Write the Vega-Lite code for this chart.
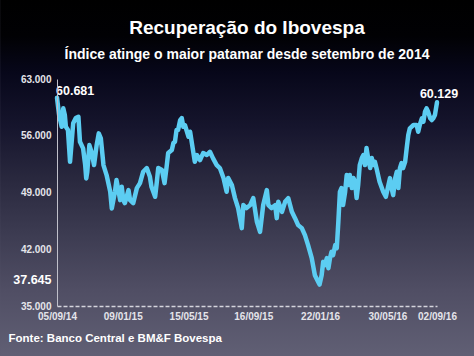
{
  "$schema": "https://vega.github.io/schema/vega-lite/v6.json",
  "width": 380,
  "height": 227,
  "padding": 0,
  "background": "#5a596e",
  "config": {
    "view": {"stroke": null},
    "font": "Liberation Sans",
    "locale": {"number": {"decimal": ",", "thousands": ".", "grouping": [3], "currency": ["R$", ""]}}
  },
  "title": {
    "text": "Recuperação do Ibovespa",
    "subtitle": "Índice atinge o maior patamar desde setembro de 2014",
    "font": "Liberation Sans",
    "subtitleFont": "Liberation Sans",
    "fontSize": 19,
    "subtitleFontSize": 14,
    "fontWeight": "bold",
    "subtitleFontWeight": "bold",
    "color": "#ffffff",
    "subtitleColor": "#ffffff",
    "subtitlePadding": 10,
    "anchor": "middle",
    "offset": -62
  },
  "datasets": {
    "ibov": [
      {"d": "2014-09-05", "v": 60681}, {"d": "2014-09-09", "v": 58556}, {"d": "2014-09-14", "v": 57111},
      {"d": "2014-09-17", "v": 59383}, {"d": "2014-09-20", "v": 58556}, {"d": "2014-09-22", "v": 57111},
      {"d": "2014-09-26", "v": 56704}, {"d": "2014-09-30", "v": 52790}, {"d": "2014-10-06", "v": 57531},
      {"d": "2014-10-11", "v": 58185}, {"d": "2014-10-16", "v": 58346}, {"d": "2014-10-19", "v": 55259},
      {"d": "2014-10-25", "v": 54444}, {"d": "2014-10-29", "v": 52383}, {"d": "2014-10-31", "v": 50740},
      {"d": "2014-11-02", "v": 51555}, {"d": "2014-11-06", "v": 54852}, {"d": "2014-11-10", "v": 54025},
      {"d": "2014-11-15", "v": 52383}, {"d": "2014-11-20", "v": 54852}, {"d": "2014-11-24", "v": 56296},
      {"d": "2014-11-28", "v": 55679}, {"d": "2014-12-03", "v": 52383}, {"d": "2014-12-09", "v": 51148},
      {"d": "2014-12-16", "v": 49086}, {"d": "2014-12-19", "v": 47037}, {"d": "2014-12-25", "v": 49086},
      {"d": "2014-12-28", "v": 50531}, {"d": "2015-01-04", "v": 48062}, {"d": "2015-01-07", "v": 49703},
      {"d": "2015-01-10", "v": 48062}, {"d": "2015-01-13", "v": 47691}, {"d": "2015-01-20", "v": 49296},
      {"d": "2015-01-23", "v": 48062}, {"d": "2015-01-29", "v": 47691}, {"d": "2015-02-05", "v": 49543},
      {"d": "2015-02-11", "v": 50160}, {"d": "2015-02-17", "v": 51555}, {"d": "2015-02-24", "v": 52012},
      {"d": "2015-03-02", "v": 50938}, {"d": "2015-03-05", "v": 49703}, {"d": "2015-03-12", "v": 48469},
      {"d": "2015-03-15", "v": 50160}, {"d": "2015-03-18", "v": 52012}, {"d": "2015-03-25", "v": 51765},
      {"d": "2015-03-30", "v": 50160}, {"d": "2015-04-03", "v": 52172}, {"d": "2015-04-06", "v": 53864},
      {"d": "2015-04-13", "v": 54235}, {"d": "2015-04-16", "v": 55099}, {"d": "2015-04-19", "v": 55259},
      {"d": "2015-04-22", "v": 56704}, {"d": "2015-04-25", "v": 56704}, {"d": "2015-04-29", "v": 57938},
      {"d": "2015-05-02", "v": 58185}, {"d": "2015-05-05", "v": 57111}, {"d": "2015-05-08", "v": 57321},
      {"d": "2015-05-11", "v": 56704}, {"d": "2015-05-15", "v": 55876}, {"d": "2015-05-18", "v": 56494},
      {"d": "2015-05-24", "v": 54025}, {"d": "2015-05-27", "v": 52790}, {"d": "2015-05-31", "v": 53617},
      {"d": "2015-06-06", "v": 53000}, {"d": "2015-06-12", "v": 53864}, {"d": "2015-06-19", "v": 53617},
      {"d": "2015-06-25", "v": 54025}, {"d": "2015-07-01", "v": 53210}, {"d": "2015-07-08", "v": 52383},
      {"d": "2015-07-14", "v": 52012}, {"d": "2015-07-21", "v": 50778}, {"d": "2015-07-27", "v": 49086},
      {"d": "2015-07-30", "v": 50778}, {"d": "2015-08-06", "v": 49913}, {"d": "2015-08-12", "v": 48309},
      {"d": "2015-08-18", "v": 47074}, {"d": "2015-08-25", "v": 44605}, {"d": "2015-08-28", "v": 47444},
      {"d": "2015-09-03", "v": 47074}, {"d": "2015-09-10", "v": 47444}, {"d": "2015-09-16", "v": 48309},
      {"d": "2015-09-23", "v": 45383}, {"d": "2015-09-29", "v": 44148}, {"d": "2015-10-05", "v": 47444},
      {"d": "2015-10-12", "v": 49296}, {"d": "2015-10-15", "v": 47444}, {"d": "2015-10-21", "v": 47074},
      {"d": "2015-10-28", "v": 47444}, {"d": "2015-10-31", "v": 45839}, {"d": "2015-11-03", "v": 47852},
      {"d": "2015-11-10", "v": 46617}, {"d": "2015-11-16", "v": 47852}, {"d": "2015-11-22", "v": 48309},
      {"d": "2015-11-29", "v": 46617}, {"d": "2015-12-05", "v": 45839}, {"d": "2015-12-11", "v": 44975},
      {"d": "2015-12-18", "v": 44605}, {"d": "2015-12-24", "v": 43740}, {"d": "2015-12-30", "v": 42506},
      {"d": "2016-01-06", "v": 40901}, {"d": "2016-01-12", "v": 38802}, {"d": "2016-01-19", "v": 37900},
      {"d": "2016-01-21", "v": 37645}, {"d": "2016-01-25", "v": 38802}, {"d": "2016-01-28", "v": 40444},
      {"d": "2016-01-31", "v": 40037}, {"d": "2016-02-04", "v": 40901}, {"d": "2016-02-07", "v": 39667},
      {"d": "2016-02-10", "v": 40901}, {"d": "2016-02-13", "v": 41679}, {"d": "2016-02-16", "v": 41272},
      {"d": "2016-02-20", "v": 42506}, {"d": "2016-02-23", "v": 42136}, {"d": "2016-02-26", "v": 45383},
      {"d": "2016-02-29", "v": 49086}, {"d": "2016-03-03", "v": 49543}, {"d": "2016-03-06", "v": 47444},
      {"d": "2016-03-10", "v": 49086}, {"d": "2016-03-13", "v": 51148}, {"d": "2016-03-16", "v": 49913},
      {"d": "2016-03-19", "v": 51148}, {"d": "2016-03-23", "v": 49543}, {"d": "2016-03-26", "v": 50778},
      {"d": "2016-03-29", "v": 50321}, {"d": "2016-04-01", "v": 48309}, {"d": "2016-04-04", "v": 49913},
      {"d": "2016-04-07", "v": 52383}, {"d": "2016-04-11", "v": 53247}, {"d": "2016-04-14", "v": 53617},
      {"d": "2016-04-17", "v": 52383}, {"d": "2016-04-20", "v": 54481}, {"d": "2016-04-23", "v": 53247},
      {"d": "2016-04-27", "v": 52012}, {"d": "2016-04-30", "v": 53247}, {"d": "2016-05-03", "v": 52383},
      {"d": "2016-05-06", "v": 52790}, {"d": "2016-05-09", "v": 52012}, {"d": "2016-05-15", "v": 50321},
      {"d": "2016-05-22", "v": 49086}, {"d": "2016-05-27", "v": 48469}, {"d": "2016-06-01", "v": 49913},
      {"d": "2016-06-04", "v": 50778}, {"d": "2016-06-07", "v": 49543}, {"d": "2016-06-10", "v": 48679},
      {"d": "2016-06-14", "v": 50778}, {"d": "2016-06-17", "v": 51555}, {"d": "2016-06-20", "v": 49543},
      {"d": "2016-06-23", "v": 52012}, {"d": "2016-06-26", "v": 52630}, {"d": "2016-06-29", "v": 52012},
      {"d": "2016-07-03", "v": 52790}, {"d": "2016-07-06", "v": 54481}, {"d": "2016-07-09", "v": 56086},
      {"d": "2016-07-12", "v": 56913}, {"d": "2016-07-19", "v": 57321}, {"d": "2016-07-25", "v": 57321},
      {"d": "2016-07-28", "v": 56494}, {"d": "2016-07-31", "v": 57321}, {"d": "2016-08-04", "v": 58148},
      {"d": "2016-08-07", "v": 57728}, {"d": "2016-08-10", "v": 58963}, {"d": "2016-08-13", "v": 59383},
      {"d": "2016-08-16", "v": 58963}, {"d": "2016-08-20", "v": 58148}, {"d": "2016-08-23", "v": 57938},
      {"d": "2016-08-26", "v": 58148}, {"d": "2016-08-29", "v": 58556}, {"d": "2016-09-02", "v": 60129}
    ],
    "first": [{"d": "2014-09-05", "v": 60681, "t": "60.681"}],
    "last": [{"d": "2016-09-02", "v": 60129, "t": "60.129"}]
  },
  "layer": [
    {
      "data": {"values": [{}]},
      "mark": {
        "type": "rect",
        "clip": false,
        "color": {
          "gradient": "linear",
          "x1": 0, "y1": 0, "x2": 0, "y2": 1,
          "stops": [
            {"offset": 0, "color": "#000000"},
            {"offset": 0.1, "color": "#010104"},
            {"offset": 0.2, "color": "#07071a"},
            {"offset": 0.35, "color": "#16152d"},
            {"offset": 0.5, "color": "#2a293f"},
            {"offset": 0.65, "color": "#3d3c52"},
            {"offset": 0.8, "color": "#504e64"},
            {"offset": 1, "color": "#626176"}
          ]
        }
      },
      "encoding": {
        "x": {"datum": {"year": 2014, "month": 5, "date": 19, "utc": true}, "type": "temporal"},
        "x2": {"datum": {"year": 2016, "month": 11, "date": 20, "utc": true}},
        "y": {"datum": 72744, "type": "quantitative"},
        "y2": {"datum": 28000}
      }
    },
    {
      "data": {"name": "ibov"},
      "mark": {"type": "line", "color": "#5ccdf2", "strokeWidth": 4.5, "strokeJoin": "round", "strokeCap": "round"},
      "encoding": {
        "x": {
          "field": "d", "type": "temporal",
          "scale": {"type": "utc", "domain": [{"year": 2014, "month": 9, "date": 5, "utc": true}, {"year": 2016, "month": 9, "date": 2, "utc": true}]},
          "axis": {
            "zindex": 1,
            "values": [
              {"year": 2014, "month": 9, "date": 5, "utc": true},
              {"year": 2015, "month": 1, "date": 9, "utc": true},
              {"year": 2015, "month": 5, "date": 15, "utc": true},
              {"year": 2015, "month": 9, "date": 16, "utc": true},
              {"year": 2016, "month": 1, "date": 22, "utc": true},
              {"year": 2016, "month": 5, "date": 30, "utc": true},
              {"year": 2016, "month": 9, "date": 2, "utc": true}
            ],
            "format": "%d/%m/%y",
            "labelFlush": false,
            "labelOverlap": false,
            "ticks": false,
            "grid": false,
            "domainColor": "#d4d4dc",
            "domainWidth": 1.5,
            "domainDash": [4, 2],
            "labelColor": "#e4e4ea",
            "labelFont": "Liberation Sans",
            "labelFontSize": 10,
            "labelFontWeight": "bold",
            "labelPadding": 5,
            "title": "Fonte: Banco Central e BM&F Bovespa",
            "titleFont": "Liberation Sans",
            "titleFontSize": 11.5,
            "titleFontWeight": "bold",
            "titleColor": "#ffffff",
            "titleAnchor": "start",
            "titleAlign": "left",
            "titleBaseline": "middle",
            "titleX": -49,
            "titleY": 32
          }
        },
        "y": {
          "field": "v", "type": "quantitative",
          "scale": {"domain": [35000, 63000], "nice": false, "zero": false},
          "axis": {
            "zindex": 1,
            "values": [35000, 37645, 42000, 49000, 56000, 63000],
            "format": ",d",
            "title": null,
            "ticks": false,
            "grid": false,
            "labelOverlap": false,
            "labelFlush": false,
            "domainColor": "#c0c0ca",
            "domainWidth": 1,
            "labelFont": "Liberation Sans",
            "labelFontWeight": "bold",
            "labelPadding": 6,
            "labelColor": {"condition": {"test": "datum.value == 37645", "value": "#ffffff"}, "value": "#e4e4ea"},
            "labelFontSize": {"condition": {"test": "datum.value == 37645", "value": 12.5}, "value": 10},
            "labelOffset": {"condition": {"test": "datum.value == 37645", "value": -5}, "value": 0}
          }
        }
      }
    },
    {
      "data": {"name": "first"},
      "mark": {"type": "text", "align": "left", "baseline": "alphabetic", "dx": -1, "dy": -3, "font": "Liberation Sans", "fontSize": 12.5, "fontWeight": "bold", "color": "#ffffff"},
      "encoding": {
        "x": {"field": "d", "type": "temporal"},
        "y": {"field": "v", "type": "quantitative"},
        "text": {"field": "t"}
      }
    },
    {
      "data": {"name": "last"},
      "mark": {"type": "text", "align": "center", "baseline": "alphabetic", "dx": 2, "dy": -4, "font": "Liberation Sans", "fontSize": 12.5, "fontWeight": "bold", "color": "#ffffff"},
      "encoding": {
        "x": {"field": "d", "type": "temporal"},
        "y": {"field": "v", "type": "quantitative"},
        "text": {"field": "t"}
      }
    }
  ]
}
